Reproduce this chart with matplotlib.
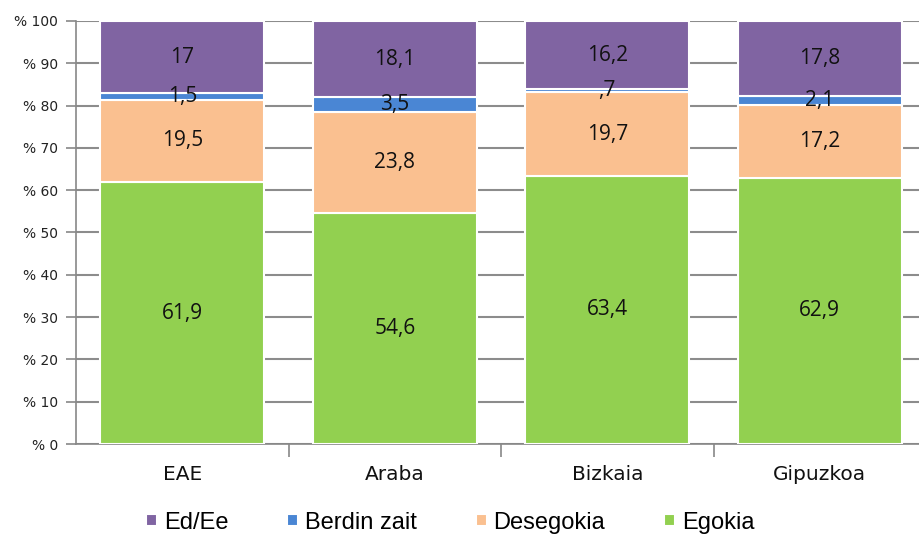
import numpy as np
import matplotlib
matplotlib.use('Agg')
from matplotlib import pyplot as plt

# data
regions = ['EAE', 'Araba', 'Bizkaia', 'Gipuzkoa']
egokia = [61.9, 54.6, 63.4, 62.9]
desegokia = [19.5, 23.8, 19.7, 17.2]
berdin = [1.5, 3.5, 0.7, 2.1]
ed_ee = [17.0, 18.1, 16.2, 17.8]

series = [('Egokia', egokia, '#92D050'),
          ('Desegokia', desegokia, '#FAC090'),
          ('Berdin zait', berdin, '#4A86D4'),
          ('Ed/Ee', ed_ee, '#8064A2')]


def fmt(v):
    s = ('%.1f' % v).rstrip('0').rstrip('.')
    if s.startswith('0.'):
        s = s[1:]
    return s.replace('.', ',')


fig = plt.figure(figsize=(9.19, 5.36), dpi=100)
ax = fig.add_axes([0.0827, 0.1716, 1 - 0.0827, 0.961 - 0.1716])

x = np.arange(len(regions))
bottom = np.zeros(len(regions))
handles = {}
for name, vals, col in series:
    vals = np.array(vals)
    b = ax.bar(x, vals, 0.77, bottom=bottom, color=col, edgecolor='white',
               linewidth=1.5, zorder=3, label=name)
    handles[name] = b
    for xi, v, b0 in zip(x, vals, bottom):
        ax.text(xi, b0 + v / 2, fmt(v), ha='center', va='center',
                fontsize=15, color='#111111', family='Open Sans', zorder=4)
    bottom += vals

ax.set_ylim(0, 100)
ax.set_xlim(-0.5, 3.467)
ax.set_yticks(np.arange(0, 101, 10))
ax.set_yticklabels(['% ' + str(v) for v in range(0, 101, 10)],
                   fontsize=10, family='DejaVu Sans', color='#222222')
ax.set_xticks(x)
ax.set_xticklabels(regions, fontsize=14.5, family='DejaVu Sans', color='#111111')
ax.set_xticks(np.arange(0.5, 3.5, 1), minor=True)
ax.tick_params(axis='x', which='major', length=0, pad=15)
ax.tick_params(axis='x', which='minor', length=9, width=1.2, color='#888888')
ax.tick_params(axis='y', length=7, width=1.2, color='#888888', pad=6)

ax.yaxis.grid(True, color='#8c8c8c', linewidth=1.5, zorder=0)
ax.set_axisbelow(True)
for s in ['top', 'right']:
    ax.spines[s].set_visible(False)
for s in ['left', 'bottom']:
    ax.spines[s].set_color('#888888')
    ax.spines[s].set_linewidth(1.2)

order = ['Ed/Ee', 'Berdin zait', 'Desegokia', 'Egokia']
leg = fig.legend([handles[n] for n in order], order, loc='lower center',
                 bbox_to_anchor=(0.49, -0.035), ncol=4, frameon=False,
                 prop={'family': 'Liberation Sans', 'size': 17},
                 handlelength=0.45, handleheight=0.45, handletextpad=0.3,
                 columnspacing=2.5)

fig.savefig('out.png', dpi=100)
